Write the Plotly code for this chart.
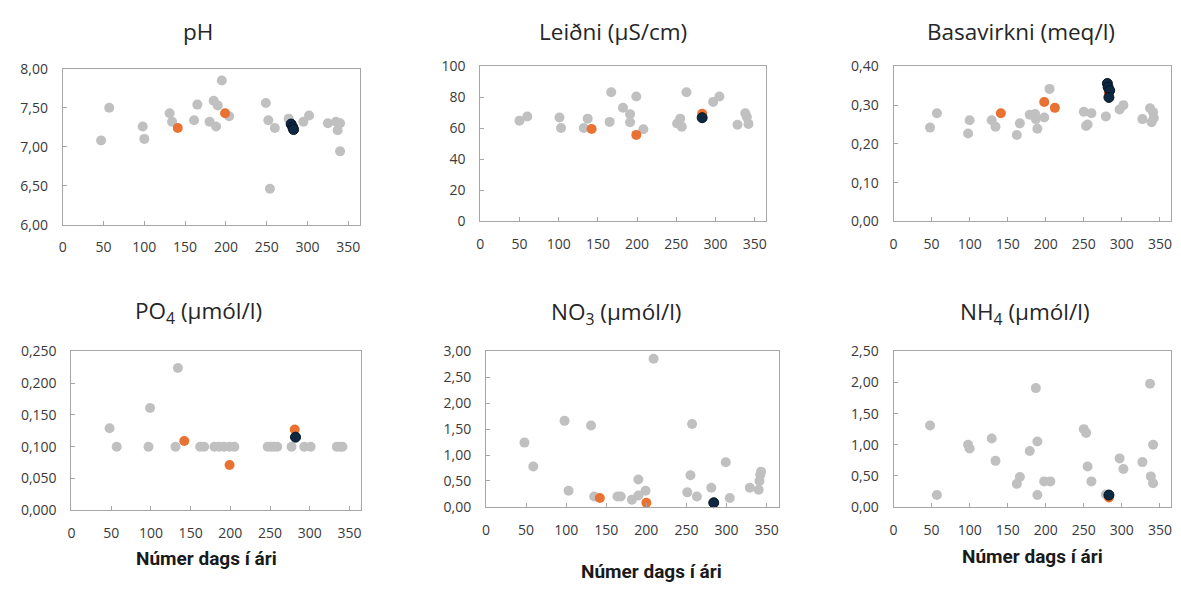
import plotly.graph_objects as go

W, H = 1181, 594

# ---------------- data (day of year, value) ----------------
PH_GRAY_DAY = [47, 57, 98, 100, 131, 134, 161, 165, 180, 185, 190, 188, 195, 204, 249, 252, 254, 260, 277, 295, 302, 325, 335, 340, 337, 340]
PH_GRAY = [7.08, 7.50, 7.26, 7.10, 7.43, 7.32, 7.34, 7.54, 7.32, 7.59, 7.53, 7.26, 7.85, 7.39, 7.56, 7.34, 6.46, 7.24, 7.36, 7.32, 7.40, 7.30, 7.32, 7.30, 7.21, 6.94]
PH_ORANGE_DAY = [141, 199]
PH_ORANGE = [7.24, 7.43]
PH_BLACK_DAY = [280, 282, 283]
PH_BLACK = [7.29, 7.25, 7.22]

LEI_GRAY_DAY = [50, 60, 101, 103, 132, 137, 165, 167, 182, 191, 191, 199, 208, 251, 255, 257, 263, 297, 305, 328, 338, 340, 342]
LEI_GRAY = [65.0, 67.7, 67.0, 60.2, 60.2, 66.3, 64.2, 83.3, 73.3, 69.2, 64.0, 80.6, 59.4, 63.1, 66.3, 61.0, 83.3, 77.1, 80.6, 62.3, 69.8, 67.3, 62.9]
LEI_ORANGE_DAY = [142, 199, 283]
LEI_ORANGE = [59.6, 55.8, 69.4]
LEI_BLACK_DAY = [283]
LEI_BLACK = [66.9]

BAS_GRAY_DAY = [48, 57, 98, 100, 129, 134, 162, 166, 179, 186, 187, 189, 198, 205, 250, 253, 255, 260, 279, 297, 302, 327, 337, 341, 339, 342]
BAS_GRAY = [0.242, 0.279, 0.227, 0.261, 0.261, 0.244, 0.223, 0.253, 0.275, 0.277, 0.264, 0.239, 0.268, 0.342, 0.283, 0.246, 0.250, 0.279, 0.271, 0.289, 0.300, 0.264, 0.292, 0.282, 0.256, 0.267]
BAS_ORANGE_DAY = [141, 198, 212, 283]
BAS_ORANGE = [0.279, 0.308, 0.293, 0.330]
BAS_BLACK_DAY = [281, 282, 284, 283]
BAS_BLACK = [0.356, 0.346, 0.338, 0.320]

PO4_GRAY_DAY = [48, 57, 97, 99, 131, 134, 162, 167, 180, 186, 192, 199, 205, 247, 251, 255, 259, 277, 293, 301, 334, 338, 341]
PO4_GRAY = [0.129, 0.100, 0.100, 0.161, 0.100, 0.224, 0.100, 0.100, 0.100, 0.100, 0.100, 0.100, 0.100, 0.100, 0.100, 0.100, 0.100, 0.100, 0.100, 0.100, 0.100, 0.100, 0.100]
PO4_ORANGE_DAY = [142, 199, 281]
PO4_ORANGE = [0.109, 0.071, 0.127]
PO4_BLACK_DAY = [282]
PO4_BLACK = [0.115]

NO3_GRAY_DAY = [48, 59, 98, 103, 131, 135, 164, 168, 182, 190, 190, 199, 209, 251, 255, 257, 263, 281, 299, 304, 329, 340, 341, 342, 343]
NO3_GRAY = [1.24, 0.78, 1.66, 0.31, 1.57, 0.20, 0.20, 0.20, 0.14, 0.53, 0.22, 0.31, 2.86, 0.28, 0.61, 1.60, 0.20, 0.37, 0.86, 0.17, 0.37, 0.33, 0.50, 0.62, 0.68]
NO3_ORANGE_DAY = [142, 200]
NO3_ORANGE = [0.17, 0.08]
NO3_BLACK_DAY = [284]
NO3_BLACK = [0.08]

NH4_GRAY_DAY = [48, 57, 98, 100, 129, 134, 162, 166, 179, 187, 189, 189, 198, 206, 250, 253, 255, 260, 279, 297, 302, 327, 337, 341, 338, 341]
NH4_GRAY = [1.31, 0.19, 1.00, 0.94, 1.10, 0.74, 0.37, 0.48, 0.90, 1.91, 1.05, 0.19, 0.41, 0.41, 1.25, 1.19, 0.65, 0.41, 0.20, 0.78, 0.61, 0.72, 1.98, 1.00, 0.49, 0.38]
NH4_ORANGE_DAY = [283]
NH4_ORANGE = [0.15]
NH4_BLACK_DAY = [283]
NH4_BLACK = [0.19]

TITLES = ["pH", "Leiðni (µS/cm)", "Basavirkni (meq/l)",
          "PO<sub>4</sub> (µmól/l)", "NO<sub>3</sub> (µmól/l)", "NH<sub>4</sub> (µmól/l)"]
X_TITLE = "Númer dags í ári"
X_TICKS = [0, 50, 100, 150, 200, 250, 300, 350]

# ---------------- styling ----------------
GRAY = "#C0C0C0"
ORANGE = "#E97132"
NAVY = "#0E2841"
AXIS_COLOR = "#A6A6A6"
TICK_FONT = dict(family="Open Sans", size=14, color="#3a3a3a")

panels = [
    dict(data=(PH_GRAY_DAY, PH_GRAY, PH_ORANGE_DAY, PH_ORANGE, PH_BLACK_DAY, PH_BLACK),
         box=(59, 358, 60.7, 221.7), yr=(6, 8), dt=0.5, fmt=".2f", t=(195, 22), xt=None),
    dict(data=(LEI_GRAY_DAY, LEI_GRAY, LEI_ORANGE_DAY, LEI_ORANGE, LEI_BLACK_DAY, LEI_BLACK),
         box=(478.3, 765.7, 58.3, 218.3), yr=(0, 100), dt=20, fmt="d", t=(612, 22), xt=None),
    dict(data=(BAS_GRAY_DAY, BAS_GRAY, BAS_ORANGE_DAY, BAS_ORANGE, BAS_BLACK_DAY, BAS_BLACK),
         box=(893.3, 1172.3, 58.3, 218.3), yr=(0, 0.4), dt=0.1, fmt=".2f", t=(1021, 22), xt=None),
    dict(data=(PO4_GRAY_DAY, PO4_GRAY, PO4_ORANGE_DAY, PO4_ORANGE, PO4_BLACK_DAY, PO4_BLACK),
         box=(67.7, 359, 352.7, 516.7), yr=(0, 0.25), dt=0.05, fmt=".3f", t=(195, 312), xt=(203, 567)),
    dict(data=(NO3_GRAY_DAY, NO3_GRAY, NO3_ORANGE_DAY, NO3_ORANGE, NO3_BLACK_DAY, NO3_BLACK),
         box=(484, 778, 352.7, 513.3), yr=(0, 3), dt=0.5, fmt=".2f", t=(615, 313), xt=(650, 580)),
    dict(data=(NH4_GRAY_DAY, NH4_GRAY, NH4_ORANGE_DAY, NH4_ORANGE, NH4_BLACK_DAY, NH4_BLACK),
         box=(893.3, 1172.3, 352.7, 513.3), yr=(0, 2.5), dt=0.5, fmt=".2f", t=(1025, 313), xt=(1033, 565)),
]

fig = go.Figure()
annotations = []
layout_axes = {}

for i, p in enumerate(panels, start=1):
    xs = "" if i == 1 else str(i)
    gx, gy, ox, oy, bx, by = p["data"]
    fig.add_trace(go.Scatter(x=gx, y=gy, mode="markers", xaxis="x" + xs, yaxis="y" + xs,
                             marker=dict(size=10, color=GRAY, line=dict(width=0)),
                             showlegend=False, cliponaxis=False))
    fig.add_trace(go.Scatter(x=ox, y=oy, mode="markers", xaxis="x" + xs, yaxis="y" + xs,
                             marker=dict(size=10, color=ORANGE, line=dict(width=0)),
                             showlegend=False, cliponaxis=False))
    fig.add_trace(go.Scatter(x=bx, y=by, mode="markers", xaxis="x" + xs, yaxis="y" + xs,
                             marker=dict(size=10, color=NAVY, line=dict(width=1, color="#061424")),
                             showlegend=False, cliponaxis=False))
    x0, x1, yt, yb = p["box"]
    common = dict(showline=True, linecolor=AXIS_COLOR, linewidth=1, mirror=True,
                  showgrid=False, zeroline=False, ticks="inside", ticklen=4,
                  tickcolor=AXIS_COLOR, tickfont=TICK_FONT)
    layout_axes["xaxis" + xs] = dict(domain=[x0 / W, x1 / W], range=[0, 365],
                                     tickvals=X_TICKS, anchor="y" + xs,
                                     ticklabelstandoff=10, **common)
    layout_axes["yaxis" + xs] = dict(domain=[1 - yb / H, 1 - yt / H], range=list(p["yr"]),
                                     dtick=p["dt"], tick0=0, tickformat=p["fmt"], anchor="x" + xs,
                                     ticklabelstandoff=11, **common)
    tx, ty = p["t"]
    annotations.append(dict(text=TITLES[i - 1], x=tx / W, y=1 - ty / H, xref="paper", yref="paper",
                            xanchor="center", yanchor="middle", showarrow=False,
                            font=dict(family="Open Sans", size=22.5, color="#262626")))
    if p["xt"]:
        ax_, ay_ = p["xt"]
        annotations.append(dict(text="<b>" + X_TITLE + "</b>", x=ax_ / W, y=1 - ay_ / H,
                                xref="paper", yref="paper", xanchor="center", yanchor="middle",
                                showarrow=False,
                                font=dict(family="Roboto", size=19, color="#1a1a1a")))

fig.update_layout(autosize=True, margin=dict(l=0, r=0, t=0, b=0, pad=0),
                  paper_bgcolor="white", plot_bgcolor="white", separators=", ",
                  annotations=annotations, **layout_axes)

fig.write_html("out.html", config={"displayModeBar": False, "responsive": True},
               default_width="100vw", default_height="100vh",
               post_script=("document.body.style.margin='0px';"
                            "document.body.style.overflow='hidden';"
                            "Plotly.Plots.resize(document.getElementById('{plot_id}'));"))
